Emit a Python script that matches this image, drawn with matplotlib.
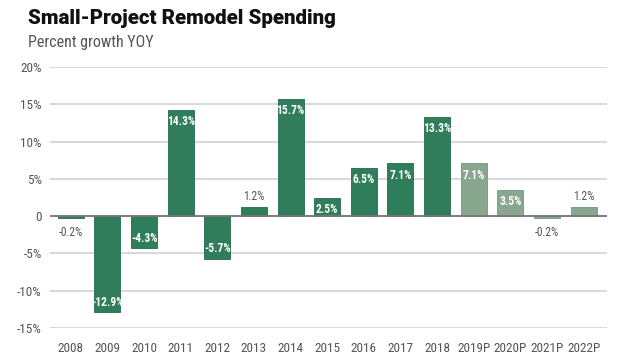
import matplotlib
matplotlib.use("Agg")
import matplotlib.pyplot as plt
from matplotlib.ticker import FuncFormatter

years = ["2008", "2009", "2010", "2011", "2012", "2013", "2014", "2015",
         "2016", "2017", "2018", "2019P", "2020P", "2021P", "2022P"]
growth = [-0.2, -12.9, -4.3, 14.3, -5.7, 1.2, 15.7, 2.5,
          6.5, 7.1, 13.3, 7.1, 3.5, -0.2, 1.2]
projected = [False] * 11 + [True] * 4
yticks = [-15, -10, -5, 0, 5, 10, 15, 20]

DARK = "#2f7d5a"
LIGHT = "#89a78f"
TXT = "#555555"

plt.rcParams["font.family"] = ["Roboto Condensed", "DejaVu Sans"]

fig = plt.figure(figsize=(6.4, 3.6), dpi=100)
ax = fig.add_axes([50 / 640, 32 / 360, 557 / 640, 261 / 360])

x = list(range(len(years)))
colors = [LIGHT if p else DARK for p in projected]
edges = ["#6f9a7c" if p else "#256b4c" for p in projected]
ax.bar(x, growth, width=0.71, color=colors, edgecolor=edges, lw=0.6, zorder=3)

for xi, v in zip(x, growth):
    lab = f"{v:.1f}%"
    if v >= 2:
        off, col = -8.5, "white"
    elif v >= 0:
        off, col = 7.5, TXT
    elif v > -2:
        off, col = -11, TXT
    else:
        off, col = 7, "white"
    ax.annotate(lab, (xi, v), xytext=(0, off), textcoords="offset points",
                ha="center", va="center", color=col, fontsize=8.3,
                fontweight="bold" if col == "white" else "normal", zorder=4)

ax.set_xlim(-0.57, 14.64)
ax.set_ylim(-15, 20)
ax.set_yticks(yticks)
ax.yaxis.set_major_formatter(FuncFormatter(lambda v, p: "0" if v == 0 else f"{v:.0f}%"))
ax.set_xticks(x)
ax.set_xticklabels(years)
ax.tick_params(axis="both", length=0, labelsize=9.5, labelcolor=TXT)
ax.tick_params(axis="x", pad=10)
ax.tick_params(axis="y", pad=6)
ax.grid(axis="y", color="#d6d6d6", lw=1.3, zorder=0)
ax.axhline(0, color="#777777", lw=1.3, zorder=5)
for s in ax.spines.values():
    s.set_visible(False)

fig.text(28 / 640, 1 - 18 / 360, "Small-Project Remodel Spending", fontsize=14.8,
         fontweight="black", family="Roboto", va="center", color="#111111")
fig.text(28 / 640, 1 - 42 / 360, "Percent growth YOY", fontsize=11.5,
         va="center", color=TXT)

fig.savefig("out.png", dpi=100)
